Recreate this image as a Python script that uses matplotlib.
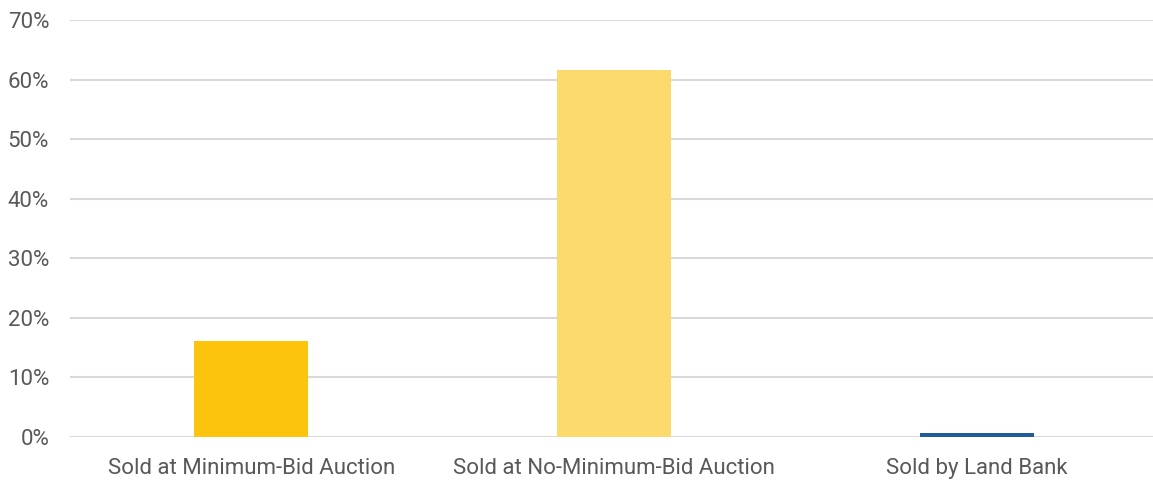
import matplotlib
matplotlib.use("Agg")
import matplotlib.pyplot as plt
from matplotlib.ticker import FuncFormatter

# Share of properties by outcome
categories = ["Sold at Minimum-Bid Auction",
              "Sold at No-Minimum-Bid Auction",
              "Sold by Land Bank"]
shares = [16.1, 61.6, 0.6]
colors = ["#FDC40D", "#FDDA6D", "#1F5C99"]

plt.rcParams['font.family'] = ['Roboto', 'DejaVu Sans']

fig = plt.figure(figsize=(11.53, 4.83), dpi=100)
# plot area runs slightly past the right edge, as in the original
ax = fig.add_axes([70 / 1153, 1 - 437 / 483, (1158 - 70) / 1153, (437 - 20) / 483])

x = range(len(categories))
ax.bar(x, shares, width=0.315, color=colors, zorder=3)

ax.set_ylim(0, 70)
ax.set_xlim(-0.5, 2.5)
ax.set_yticks(range(0, 71, 10))
ax.yaxis.set_major_formatter(FuncFormatter(lambda v, p: "%d%%" % v))
ax.set_xticks(list(x))
ax.set_xticklabels(categories)

ax.grid(axis="y", color="#D9D9D9", lw=1.5, zorder=0)
for s in ax.spines.values():
    s.set_visible(False)
ax.tick_params(length=0, labelsize=16, colors="#595959")
ax.tick_params(axis="x", pad=15)
ax.tick_params(axis="y", pad=15)

fig.savefig("out.png", dpi=100)
